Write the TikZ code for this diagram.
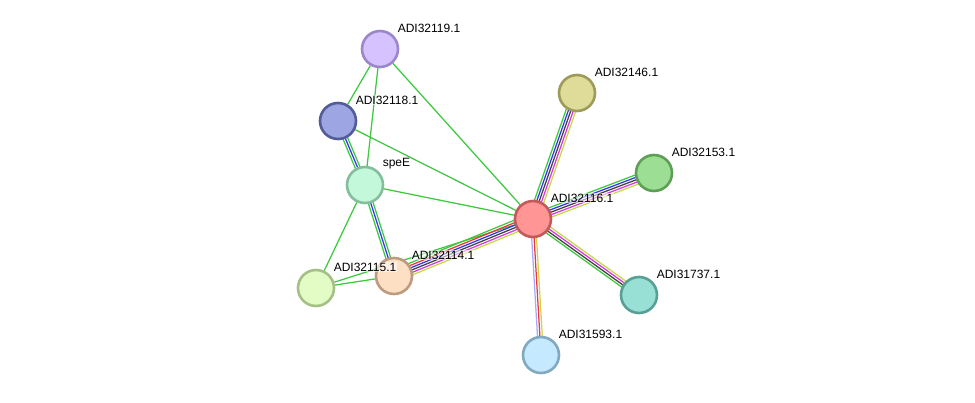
\documentclass[tikz,border=0pt]{standalone}
\usepackage{fontspec}
\setmainfont{Liberation Sans}
\usetikzlibrary{calc,backgrounds}

% evidence channels
\definecolor{evgreen}{HTML}{3DC83D}
\definecolor{evblue}{HTML}{3535F0}
\definecolor{evred}{HTML}{F03535}
\definecolor{evblack}{HTML}{404040}
\definecolor{evmagenta}{HTML}{D838D8}
\definecolor{evyellow}{HTML}{C4D84A}
\definecolor{evlilac}{HTML}{A8A8F8}

% protein colours (fill / rim)
\definecolor{f119}{HTML}{D5C2FF}\definecolor{d119}{HTML}{9B87C9}
\definecolor{f118}{HTML}{9DA6E2}\definecolor{d118}{HTML}{525C99}
\definecolor{fspe}{HTML}{C3F8DA}\definecolor{dspe}{HTML}{84BE9C}
\definecolor{f115}{HTML}{E3FCC6}\definecolor{d115}{HTML}{A5BF86}
\definecolor{f114}{HTML}{FDDFC4}\definecolor{d114}{HTML}{BC9C80}
\definecolor{f116}{HTML}{FF9595}\definecolor{d116}{HTML}{C25A5A}
\definecolor{f146}{HTML}{DFDB98}\definecolor{d146}{HTML}{9E9A59}
\definecolor{f153}{HTML}{9DDE95}\definecolor{d153}{HTML}{5D9F55}
\definecolor{f737}{HTML}{98E0D6}\definecolor{d737}{HTML}{589F95}
\definecolor{f593}{HTML}{C5E9FE}\definecolor{d593}{HTML}{82A9C0}

% parallel strands between two proteins, first colour on the right
\newcommand{\bundle}[3]{%
  \foreach \c [count=\i] in {#3} {\xdef\nstrands{\i}}%
  \foreach \c [count=\i] in {#3} {
    \pgfmathsetmacro{\off}{(\i-(\nstrands+1)/2)*2.4}
    \draw[strand, \c] ($(#1)!\off pt!90:(#2)$) -- ($(#2)!\off pt!-90:(#1)$);
  }}

\begin{document}
\begin{tikzpicture}[x=1pt, y=-1pt]
            \tikzstyle{prot}=[circle, minimum size=36pt, inner sep=0pt, line width=2.6pt];
            \tikzstyle{lbl}=[anchor=west, inner sep=0.6pt, fill=white, fill opacity=0.55, text opacity=1, font=\fontsize{12}{13}\selectfont];
            \tikzstyle{strand}=[line width=1.25pt];
            \useasboundingbox (0,0) rectangle (975,402);

            \node[prot, fill=f119, draw=d119] (n119) at (380, 49) {};
            \node[prot, fill=f118, draw=d118] (n118) at (338, 121) {};
            \node[prot, fill=fspe, draw=dspe] (spe) at (365, 185) {};
            \node[prot, fill=f115, draw=d115] (n115) at (316, 288) {};
            \node[prot, fill=f114, draw=d114] (n114) at (394, 276) {};
            \node[prot, fill=f116, draw=d116] (n116) at (533, 219) {};
            \node[prot, fill=f146, draw=d146] (n146) at (577, 93) {};
            \node[prot, fill=f153, draw=d153] (n153) at (654, 173) {};
            \node[prot, fill=f737, draw=d737] (n737) at (639, 295) {};
            \node[prot, fill=f593, draw=d593] (n593) at (541, 355) {};

            \node[lbl] at ([shift={(17,-21)}]n119.center) {ADI32119.1};
            \node[lbl] at ([shift={(17,-21)}]n118.center) {ADI32118.1};
            \node[lbl] at ([shift={(17,-21)}]spe.center) {speE};
            \node[lbl] at ([shift={(17,-21)}]n115.center) {ADI32115.1};
            \node[lbl] at ([shift={(17,-21)}]n114.center) {ADI32114.1};
            \node[lbl] at ([shift={(17,-21)}]n116.center) {ADI32116.1};
            \node[lbl] at ([shift={(17,-21)}]n146.center) {ADI32146.1};
            \node[lbl] at ([shift={(17,-21)}]n153.center) {ADI32153.1};
            \node[lbl] at ([shift={(17,-21)}]n737.center) {ADI31737.1};
            \node[lbl] at ([shift={(17,-21)}]n593.center) {ADI31593.1};

            \begin{scope}[on background layer]
            % single neighbourhood links
            \foreach \a/\b in {n119/n118, n119/spe, n119/n116, n118/n116, spe/n116, spe/n115, n115/n114, n115/n116}
                \draw[strand, evgreen] (\a) -- (\b);
            \bundle{n118}{spe}{evgreen,evblue,evgreen}
            \bundle{spe}{n114}{evgreen,evblue,evgreen}
            \bundle{n146}{n116}{evgreen,evblue,evblack,evmagenta,evyellow}
            \bundle{n153}{n116}{evgreen,evblue,evblack,evmagenta,evyellow}
            \bundle{n116}{n114}{evgreen,evred,evblue,evblack,evmagenta,evyellow}
            \bundle{n116}{n737}{evgreen,evblack,evmagenta,evyellow}
            \bundle{n116}{n593}{evlilac,evred,evyellow}
            \end{scope}
        \end{tikzpicture}
\end{document}
